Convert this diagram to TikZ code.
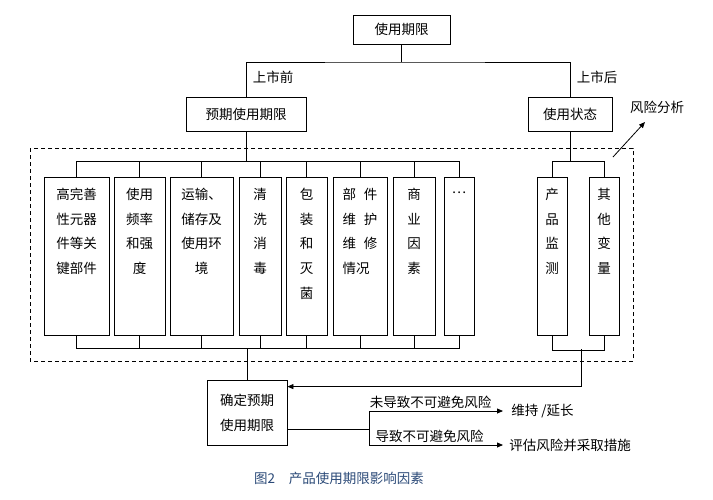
\documentclass[tikz,border=0pt]{standalone}
\usepackage{fontspec}
\setmainfont{Noto Sans CJK SC}
\usetikzlibrary{arrows.meta}
\definecolor{capblue}{HTML}{2B4A78}

\begin{document}
\begin{tikzpicture}[x=1pt,y=-1pt,line width=0.8pt,
  every node/.style={font=\fontsize{13.5}{24.7}\selectfont},
  box/.style={draw,inner sep=0pt},
  factor/.style={box,minimum height=158pt},
  factortext/.style={anchor=north,inner sep=0pt},
  arr/.style={-{Triangle[length=6pt,width=5pt]}}]
\useasboundingbox[fill=white] (0,0) rectangle (713,499);

% top levels
\node[box,minimum width=97pt,minimum height=29pt] (life) at (401.5,29.5) {使用期限};
\node[box,minimum width=120pt,minimum height=34pt] (pre) at (246,114) {预期使用期限};
\node[box,minimum width=84pt,minimum height=34pt] (post) at (570,114) {使用状态};
\coordinate (split) at (401.5,62);
\draw (life.south) -- (split);
\draw (pre.north) |- (split) -| (post.north);
\node (before) at (273,77) {上市前};
\node (after) at (597,77) {上市后};

% the factor boxes
\foreach \n/\x/\w/\a/\t in {
    b1/76.5/65/center/{高完善\\性元器\\件等关\\键部件},
    b2/139.5/51/center/{使用\\频率\\和强\\度},
    b3/201.5/63/center/{运输、\\储存及\\使用环\\境},
    b4/260/42/center/{清\\洗\\消\\毒},
    b5/306.5/41/center/{包\\装\\和\\灭\\菌},
    b6/360/54/left/{部\hspace{8pt}件\\维\hspace{8pt}护\\维\hspace{8pt}修\\情况},
    b7/414/42/center/{商\\业\\因\\素},
    b8/459/30/center/{\raisebox{-5pt}{…}},
    b9/552/30/center/{产\\品\\监\\测},
    b10/604/30/center/{其\\他\\变\\量}}{
    \node[factor,minimum width=\w pt] (\n) at (\x,256) {};
    \node[factortext,align=\a] (\n t) at ([yshift=-11pt]\n.north) {\t};
}

% buses above and below the boxes
\draw (b1.north) -- ++(0,-15) -| (b8.north);
\draw (b1.south) -- ++(0,13) -| (b8.south);
\foreach \n in {b2,b3,b4,b5,b6,b7}{
    \draw (\n.north) -- ++(0,-15);
    \draw (\n.south) -- ++(0,13);
}
\draw (b9.north) -- ++(0,-15) -| (b10.north);
\draw (b9.south) -- ++(0,15) -| (b10.south);
\draw (pre.south) -- ++(0,31);
\draw (post.south) -- ++(0,31);

% dashed frame and risk analysis
\draw[dash pattern=on 4pt off 3pt] (30,148) rectangle (633,361);
\node (ra) at (657,107) {风险分析};
\coordinate (rs) at (613,157);
\coordinate (rt) at (645,122);
\draw[arr] (rs) -- (rt);

% decision
\node[box,minimum width=80pt,minimum height=65pt,align=center] (det) at (247,412.5) {确定预期\\使用期限};
\coordinate (lbus) at (247,349);
\draw (lbus) -- (det.north);
\coordinate (rbus) at (581,349);
\draw[arr] (rbus) |- ([yshift=-7pt]det.north east);

\coordinate (jn) at (369,429);
\node[anchor=west,inner sep=0pt] (keep) at (511,411) {维持\hspace{3pt}/延长};
\node[anchor=west,inner sep=0pt] (risk) at (509,445) {评估风险并采取措施};
\draw ([yshift=-16.5pt]det.east) -- (jn);
\draw[arr] (jn) |- ([xshift=-8pt]keep.west);
\draw[arr] (jn) |- ([xshift=-6pt]risk.west);
\node (noinev) at (430.5,402) {未导致不可避免风险};
\node (inev) at (429.5,436) {导致不可避免风险};

% caption
\node[text=capblue,font=\fontsize{13.5}{16}\selectfont] (cap) at (339,478) {图2\hspace{14pt}产品使用期限影响因素};
\end{tikzpicture}
\end{document}
